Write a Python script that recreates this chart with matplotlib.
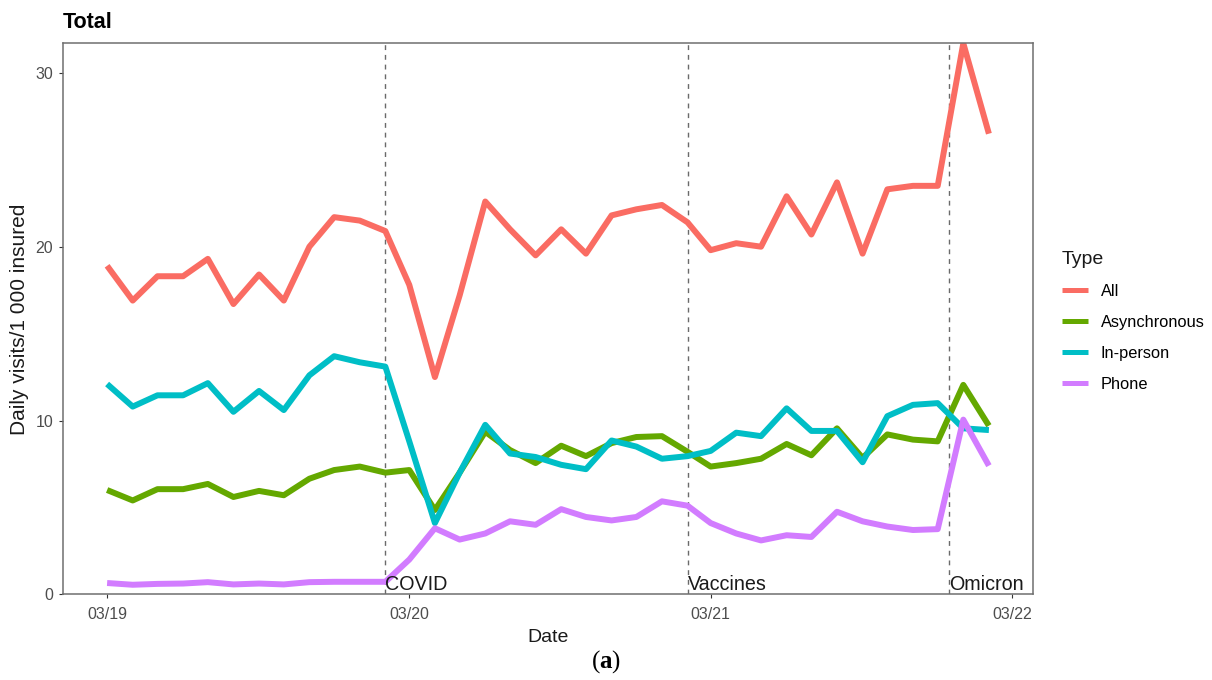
import matplotlib
matplotlib.use("Agg")
import matplotlib.pyplot as plt
import matplotlib.dates as mdates
import pandas as pd

# Monthly daily visits per 1 000 insured, March 2019 - February 2022
months = pd.date_range("2019-03-01", "2022-02-01", freq="MS")

all_visits = [18.9, 16.9, 18.3, 18.3, 19.3, 16.7, 18.4, 16.9, 20.0, 21.7, 21.5, 20.9,
              17.8, 12.5, 17.2, 22.6, 21.0, 19.5, 21.0, 19.6, 21.8, 22.15, 22.4, 21.4,
              19.8, 20.2, 20.0, 22.9, 20.7, 23.7, 19.6, 23.3, 23.5, 23.5, 31.7, 26.5]
asynchronous = [6.0, 5.4, 6.05, 6.05, 6.35, 5.6, 5.95, 5.7, 6.65, 7.15, 7.35, 7.0,
                7.15, 4.85, 7.0, 9.35, 8.3, 7.55, 8.55, 7.95, 8.7, 9.05, 9.1, 8.2,
                7.35, 7.55, 7.8, 8.65, 8.0, 9.55, 7.85, 9.2, 8.9, 8.8, 12.05, 9.7]
in_person = [12.1, 10.8, 11.45, 11.45, 12.15, 10.5, 11.7, 10.6, 12.6, 13.7, 13.35, 13.1,
             8.8, 4.1, 7.0, 9.75, 8.1, 7.9, 7.45, 7.2, 8.85, 8.5, 7.8, 7.95,
             8.25, 9.3, 9.1, 10.7, 9.4, 9.4, 7.6, 10.25, 10.9, 11.0, 9.55, 9.45]
phone = [0.65, 0.55, 0.6, 0.62, 0.7, 0.57, 0.62, 0.57, 0.7, 0.72, 0.72, 0.72,
         2.0, 3.8, 3.15, 3.5, 4.2, 4.0, 4.9, 4.45, 4.25, 4.45, 5.35, 5.1,
         4.1, 3.5, 3.1, 3.4, 3.3, 4.75, 4.2, 3.9, 3.7, 3.75, 10.05, 7.4]

series_names = ["All", "Asynchronous", "In-person", "Phone"]
series_colors = ["#FA6C63", "#64A800", "#00BEC6", "#D27CFF"]

event_dates = ["2020-02-01", "2021-02-01", "2021-12-15"]
event_labels = ["COVID", "Vaccines", "Omicron"]

tick_dates = ["2019-03-01", "2020-03-01", "2021-03-01", "2022-03-01"]

plt.rcParams["font.family"] = ["Liberation Sans", "DejaVu Sans"]
plt.rcParams["mathtext.fontset"] = "custom"
plt.rcParams["mathtext.bf"] = "Liberation Serif:bold"
plt.rcParams["mathtext.rm"] = "Liberation Serif"

fig = plt.figure(figsize=(12.12, 6.8), dpi=100)
ax = fig.add_axes([0.052, 0.126, 0.8003, 0.8103])

x = mdates.date2num(months)
lines = []
for name, vals, col in zip(series_names, [all_visits, asynchronous, in_person, phone], series_colors):
    ln, = ax.plot(x, vals, color=col, lw=4.3, label=name,
                  solid_joinstyle="round", solid_capstyle="butt")
    lines.append(ln)

# x range: data span padded by 5% on each side
span = x[-1] - x[0]
ax.set_xlim(x[0] - 0.05 * span, x[-1] + 0.05 * span)
ax.set_ylim(0, max(all_visits))

for d, lab in zip(event_dates, event_labels):
    xd = mdates.date2num(pd.Timestamp(d))
    ax.axvline(xd, color="#6a6a6a", lw=1.0, ls=(0, (3.5, 3.5)), zorder=0.5)
    ax.text(xd, 0.25, lab, ha="left", va="baseline", fontsize=14.2, color="#1a1a1a")

ax.set_xticks(mdates.date2num(pd.to_datetime(tick_dates)))
ax.xaxis.set_major_formatter(mdates.DateFormatter("%m/%y"))
ax.set_yticks([0, 10, 20, 30])

ax.tick_params(axis="both", length=3, width=0.8, color="#333333",
               labelsize=11.5, labelcolor="#4D4D4D")
ax.tick_params(axis="x", pad=6)
ax.tick_params(axis="y", pad=4)

for sp in ax.spines.values():
    sp.set_color("#6f6f6f")
    sp.set_linewidth(1.1)

ax.set_xlabel("Date", fontsize=14, color="#1a1a1a", labelpad=5)
ax.set_ylabel("Daily visits/1 000 insured", fontsize=15, color="#1a1a1a", labelpad=5)

fig.text(0.052, 0.967, "Total", fontsize=15.5, fontweight="bold", ha="left", va="center")

leg = ax.legend(handles=lines, title="Type", loc="upper left",
                bbox_to_anchor=(1062 / 1212, 1 - 251 / 680), bbox_transform=fig.transFigure,
                frameon=False, fontsize=11.8, title_fontsize=14,
                handlelength=1.6, handletextpad=0.75, labelspacing=0.97,
                borderpad=0, borderaxespad=0, alignment="left")
leg.get_title().set_color("#1a1a1a")
for hl in leg.get_lines():
    hl.set_linewidth(3.6)

fig.text(0.5, 1 - 662 / 680, r"($\mathbf{a}$)", fontsize=18, ha="center", va="center",
         family="Liberation Serif")

fig.savefig("out.png", dpi=100, facecolor="white")
